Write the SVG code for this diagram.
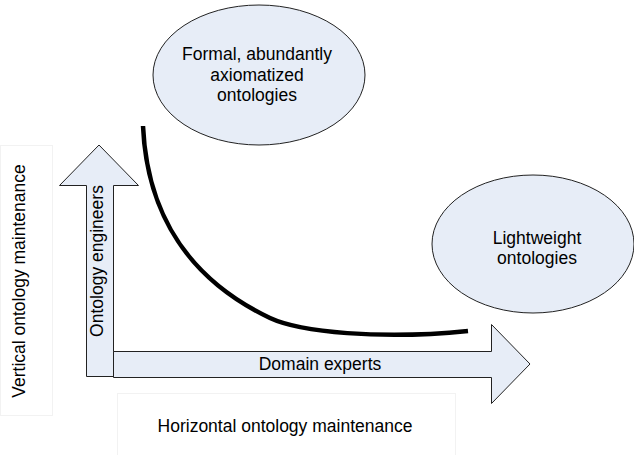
<svg xmlns="http://www.w3.org/2000/svg" width="634" height="455" viewBox="0 0 634 455">
<style>
.shape{fill:#e7edf7;stroke:#222;stroke-width:1}
.lbl{fill:#fff;stroke:#f2f2f2;stroke-width:1}
text{font-family:"Liberation Sans",Arial,sans-serif;font-size:17.5px;fill:#000;text-anchor:middle}
.curve{fill:none;stroke:#000;stroke-width:4.5;stroke-linecap:butt}
</style>
<rect width="634" height="455" fill="#fff"/>
<g id="vertical-label">
<rect class="lbl" x="0.5" y="145.5" width="52" height="270"/>
<text transform="translate(25,281) rotate(-90)">Vertical ontology maintenance</text>
</g>
<g id="horizontal-label">
<rect class="lbl" x="117.5" y="393.5" width="338" height="70"/>
<text x="285" y="432">Horizontal ontology maintenance</text>
</g>
<g id="ontology-engineers">
<polygon class="shape" points="86.5,376.5 86.5,185.5 59.5,185.5 99,145 138.5,185.5 113.5,185.5 113.5,376.5"/>
<text transform="translate(103,261) rotate(-90)">Ontology engineers</text>
</g>
<g id="domain-experts">
<polygon class="shape" points="113.5,351.5 491.5,351.5 491.5,324.5 530,364 491.5,403.5 491.5,377.5 113.5,377.5"/>
<text x="320" y="370">Domain experts</text>
</g>
<g id="formal-ontologies">
<ellipse class="shape" cx="259" cy="75" rx="106" ry="70"/>
<text x="257" y="60">Formal, abundantly</text>
<text x="257" y="81">axiomatized</text>
<text x="257" y="101">ontologies</text>
</g>
<g id="lightweight-ontologies">
<ellipse class="shape" cx="533" cy="244" rx="101" ry="69"/>
<text x="537" y="244">Lightweight</text>
<text x="537" y="264">ontologies</text>
</g>
<g id="connectors">
<path class="curve" d="M143,126 C147,215 190,280 270,318 C300,332 380,340 468,331"/>
</g>
</svg>
